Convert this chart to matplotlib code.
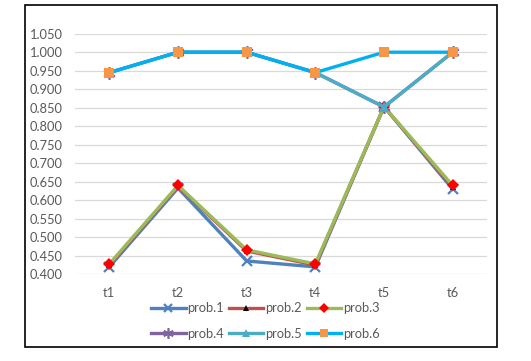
import matplotlib
matplotlib.use("Agg")
import matplotlib.pyplot as plt
from matplotlib.patches import Rectangle

plt.rcParams["font.family"] = ["Lato", "DejaVu Sans"]

# -------------------------------
# DATA
# -------------------------------
categories = ["t1", "t2", "t3", "t4", "t5", "t6"]
prob1 = [0.420, 0.633, 0.436, 0.420, 0.853, 0.630]
prob2 = [0.425, 0.638, 0.463, 0.425, 0.853, 0.635]
prob3 = [0.428, 0.640, 0.466, 0.428, 0.853, 0.640]
prob4 = [0.945, 1.000, 1.000, 0.945, 0.852, 1.000]
prob5 = [0.945, 1.000, 1.000, 0.945, 0.852, 1.000]
prob6 = [0.945, 1.000, 1.000, 0.945, 1.000, 1.000]
labels = ["prob.1", "prob.2", "prob.3", "prob.4", "prob.5", "prob.6"]

# -------------------------------
# STYLE
# -------------------------------
series = [prob1, prob2, prob3, prob4, prob5, prob6]
line_colors = ["#4F81BD", "#C0504D", "#9BBB59", "#8064A2", "#4BACC6", "#00B0F0"]
markers = ["x", "^", "D", (6, 2, 0), "^", "s"]
marker_face = ["#4F81BD", "black", "red", "#8064A2", "#4BACC6", "#F79646"]
marker_size = [6.5, 4.5, 6, 9, 7.5, 6.5]
marker_ew = [1.6, 0, 0, 1.2, 0, 0]

text_color = "#595959"

fig = plt.figure(figsize=(5.31, 3.61), dpi=100)
ax = fig.add_axes([75 / 531, 1 - 274.3 / 361, 412 / 531, 240.6 / 361])

x = list(range(len(categories)))
handles = []
for vals, lc, mk, mf, ms, mw, lab in zip(series, line_colors, markers,
                                         marker_face, marker_size,
                                         marker_ew, labels):
    h, = ax.plot(x, vals, color=lc, lw=2.4, marker=mk, markerfacecolor=mf,
                 markeredgecolor=mf, markersize=ms, markeredgewidth=mw,
                 label=lab, clip_on=False, zorder=3)
    handles.append(h)

ax.set_xlim(-0.5, 5.5)
ax.set_ylim(0.4, 1.05)
ax.set_yticks([0.4 + 0.05 * i for i in range(14)])
ax.yaxis.set_major_formatter(plt.FormatStrFormatter("%.3f"))
ax.set_xticks(x)
ax.set_xticklabels(categories)
ax.tick_params(axis="both", length=0, labelsize=9.3, colors=text_color)
ax.tick_params(axis="y", pad=9)
ax.tick_params(axis="x", pad=9)
ax.grid(axis="y", color="#D9D9D9", lw=0.9)
ax.set_axisbelow(True)
for s in ax.spines.values():
    s.set_visible(False)

# legend: row order prob.1 prob.2 prob.3 / prob.4 prob.5 prob.6
order = [0, 3, 1, 4, 2, 5]
leg = fig.legend([handles[i] for i in order], [labels[i] for i in order],
                 ncol=3, loc="center", bbox_to_anchor=(265 / 531, 1 - 321 / 361),
                 frameon=False, fontsize=9.3, handlelength=2.7,
                 handletextpad=0.1, columnspacing=0.4, labelspacing=1.05,
                 borderpad=0, markerscale=0.85)
for t in leg.get_texts():
    t.set_color(text_color)

# outer frame
fig.add_artist(Rectangle((25 / 531, 1 - 347 / 361), 472 / 531, 342 / 361,
                         transform=fig.transFigure, fill=False,
                         edgecolor="black", lw=1.2))

fig.savefig("out.png", dpi=100)
